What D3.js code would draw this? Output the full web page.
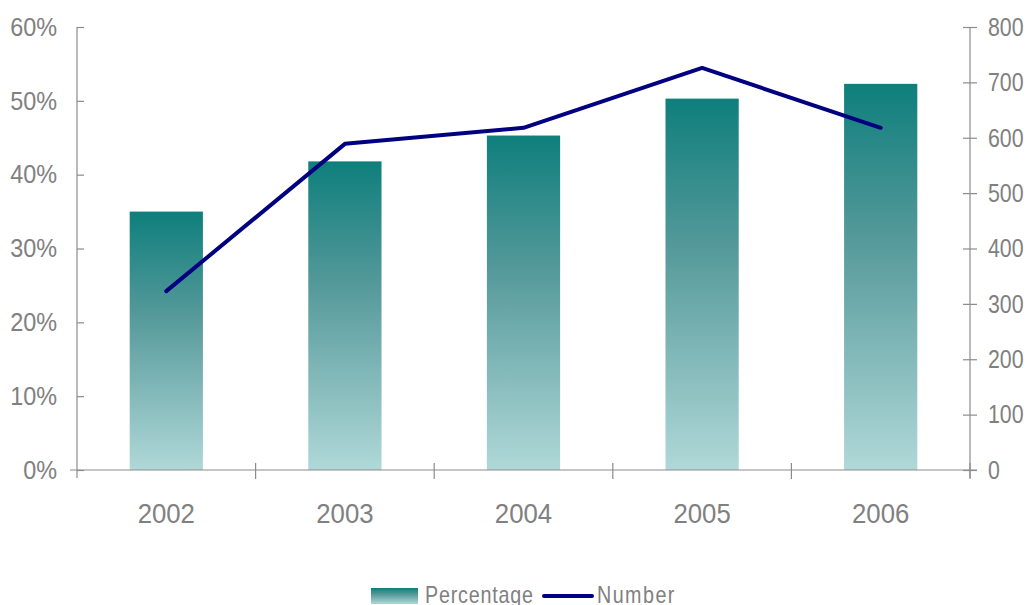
<!DOCTYPE html>
<html>
<head>
<meta charset="utf-8">
<title>Percentage and Number</title>
<style>
    body { margin: 0; background: #fff; }
    text { font-family: "Liberation Sans", Arial, sans-serif; fill: #808080; }
</style>
</head>
<body>
<svg width="1030" height="605"></svg>
<script src="https://cdnjs.cloudflare.com/ajax/libs/d3/7.8.5/d3.min.js"></script>
<script>
const years = ["2002", "2003", "2004", "2005", "2006"];
const percentage = [35.0, 41.8, 45.3, 50.3, 52.3];
const number = [323, 589, 618, 726, 618];
const leftTicks = [0, 10, 20, 30, 40, 50, 60];
const rightTicks = [0, 100, 200, 300, 400, 500, 600, 700, 800];

const svg = d3.select("svg");
const margin = { left: 77, right: 60, top: 27, bottom: 135 };
const W = 1030, H = 605;
const x0 = margin.left, x1 = W - margin.right, y0 = H - margin.bottom, y1 = margin.top;

const x = d3.scaleBand().domain(years).range([x0, x1]).paddingInner(0.59).paddingOuter(0.295);
const xb = d3.scaleBand().domain(years).range([x0, x1]);
const yL = d3.scaleLinear().domain([0, 60]).range([y0, y1]);
const yR = d3.scaleLinear().domain([0, 800]).range([y0, y1]);

const defs = svg.append("defs");
const grad = defs.append("linearGradient").attr("id", "barGrad")
    .attr("x1", 0).attr("y1", 0).attr("x2", 0).attr("y2", 1);
grad.append("stop").attr("offset", "0%").attr("stop-color", "#0e7f7c");
grad.append("stop").attr("offset", "40%").attr("stop-color", "#55999a");
grad.append("stop").attr("offset", "100%").attr("stop-color", "#b0d8d8");

// bars
svg.append("g").selectAll("rect").data(years).join("rect")
    .attr("x", d => x(d))
    .attr("width", x.bandwidth())
    .attr("y", (d, i) => yL(percentage[i]))
    .attr("height", (d, i) => y0 - yL(percentage[i]))
    .attr("fill", "url(#barGrad)");

// axes
const axisColor = "#8c8c8c";
const gL = svg.append("g").attr("transform", `translate(${x0},0)`)
    .call(d3.axisLeft(yL).tickValues(leftTicks).tickFormat(d => d + "%").tickSizeInner(7).tickSizeOuter(0).tickPadding(13));
gL.selectAll(".tick line").attr("x2", 7);
const gR = svg.append("g").attr("transform", `translate(${x1},0)`)
    .call(d3.axisRight(yR).tickValues(rightTicks).tickSizeInner(7).tickSizeOuter(0).tickPadding(11));
gR.selectAll(".tick line").attr("x2", -7).attr("x1", 7);
const gX = svg.append("g").attr("transform", `translate(0,${y0})`)
    .call(d3.axisBottom(xb).tickSize(0).tickPadding(33));
gX.select(".domain").attr("d", `M${x0 - 7},0H${x1 + 7}`);
gX.selectAll(".tick").append("line")
    .attr("x1", xb.bandwidth() / 2).attr("x2", xb.bandwidth() / 2)
    .attr("y1", -7).attr("y2", 9);
gX.append("line").attr("x1", x0).attr("x2", x0).attr("y1", -7).attr("y2", 9);
gL.select(".domain").attr("d", `M0,${y1}V${y0 + 8}`);
gR.select(".domain").attr("d", `M0,${y1}V${y0 + 8}`);

svg.selectAll(".domain, .tick line").attr("stroke", axisColor).attr("stroke-width", 1.2);
gL.selectAll(".tick text").style("font-size", "26px").attr("data-n", 0.9);
gR.selectAll(".tick text").style("font-size", "26px").attr("data-n", 0.82);
gX.selectAll(".tick text").style("font-size", "28px").attr("data-n", 0.92);
svg.selectAll(".tick text").attr("fill", "#808080").attr("font-family", null);

// line
const line = d3.line().x((d, i) => x(years[i]) + x.bandwidth() / 2).y(d => yR(d));
svg.append("path").datum(number)
    .attr("d", line)
    .attr("fill", "none")
    .attr("stroke", "#000080")
    .attr("stroke-width", 4)
    .attr("stroke-linecap", "round")
    .attr("stroke-linejoin", "round");

// legend
const lg = svg.append("g");
lg.append("rect").attr("x", 371).attr("y", 588).attr("width", 47).attr("height", 16).attr("fill", "url(#barGrad)");
lg.append("text").attr("x", 425).attr("y", 603).text("Percentage")
    .style("font-size", "24px").style("letter-spacing", "1px").attr("data-n", 0.82);
lg.append("line").attr("x1", 544).attr("x2", 592).attr("y1", 596).attr("y2", 596)
    .attr("stroke", "#000080").attr("stroke-width", 4).attr("stroke-linecap", "round");
lg.append("text").attr("x", 597).attr("y", 603).text("Number")
    .style("font-size", "24px").style("letter-spacing", "1.8px").attr("data-n", 0.82);

// narrow the glyphs like Arial Narrow
svg.selectAll("text").each(function () {
    const w = this.getComputedTextLength();
    const k = +this.getAttribute("data-n") || 0.82;
    d3.select(this).attr("textLength", w * k).attr("lengthAdjust", "spacingAndGlyphs");
});
</script>
</body>
</html>
